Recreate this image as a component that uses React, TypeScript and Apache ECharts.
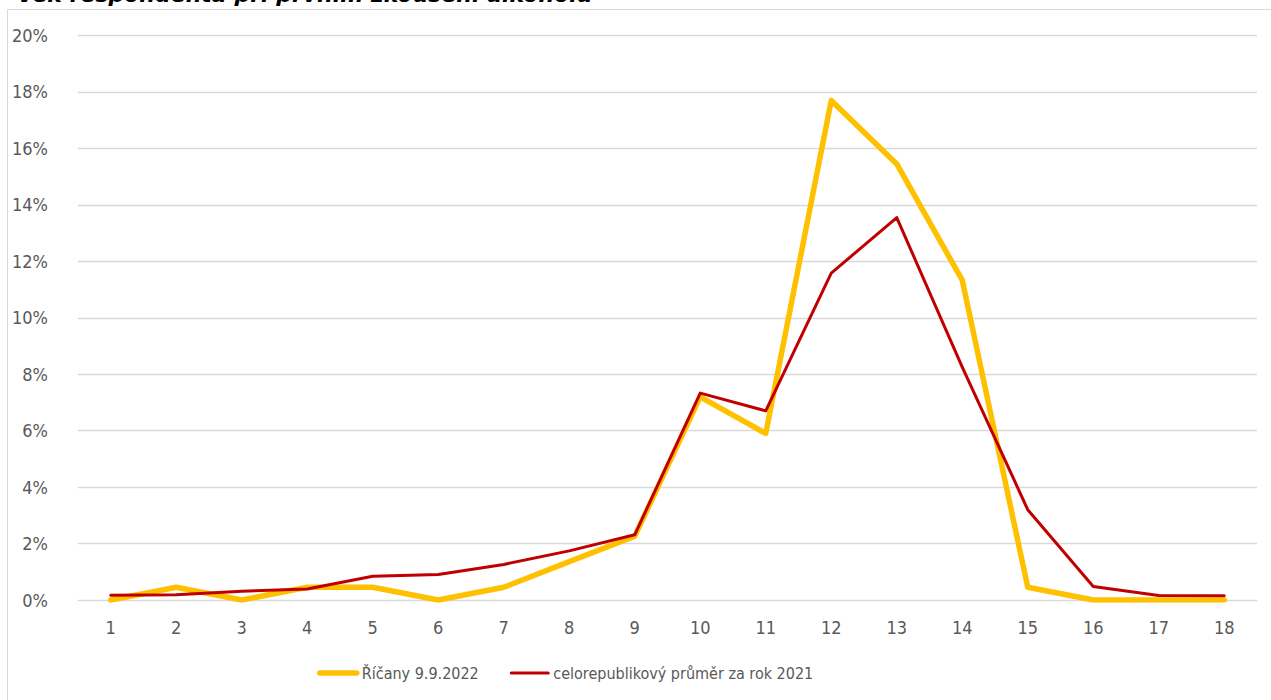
import React, { useEffect, useRef } from "react";
import * as echarts from "echarts";

const TITLE = "Věk respondenta při prvním zkoušení alkoholu";
const categories = ["1", "2", "3", "4", "5", "6", "7", "8", "9", "10", "11", "12", "13", "14", "15", "16", "17", "18"];
const ricanyName = "Říčany 9.9.2022";
const ricany = [0, 0.45, 0, 0.45, 0.45, 0, 0.45, 1.36, 2.26, 7.2, 5.9, 17.7, 15.45, 11.33, 0.45, 0, 0, 0];
const crName = "celorepublikový průměr za rok 2021";
const cr = [0.17, 0.19, 0.31, 0.39, 0.84, 0.9, 1.26, 1.74, 2.31, 7.33, 6.7, 11.58, 13.55, 8.25, 3.2, 0.48, 0.16, 0.15];

const FONT = "'DejaVu Sans Condensed', 'DejaVu Sans', sans-serif";
const TXT = "#595959";

export default function App() {
  const ref = useRef<HTMLDivElement>(null);
  useEffect(() => {
    if (!ref.current) return;
    const chart = echarts.init(ref.current, undefined, { renderer: "svg" });
    chart.setOption({
      animation: false,
      backgroundColor: "#ffffff",
      graphic: [
        {
          type: "rect",
          shape: { x: 7.5, y: 9.5, width: 1400, height: 900 },
          style: { fill: "none", stroke: "#d9d9d9", lineWidth: 1 },
          silent: true,
        },
        {
          type: "text",
          left: 17,
          top: -17,
          style: {
            text: TITLE,
            font: "italic bold 22px 'DejaVu Sans', sans-serif",
            fill: "#000000",
          },
        },
      ],
      grid: { left: 78, right: 14, top: 35.5, bottom: 100, containLabel: false },
      legend: {
        left: 317,
        top: 665,
        padding: 0,
        itemWidth: 37,
        itemHeight: 14,
        itemGap: 31,
        textStyle: { color: TXT, fontSize: 16, fontFamily: FONT },
        data: [
          { name: ricanyName, lineStyle: { width: 5.5, cap: "round" }, itemStyle: { opacity: 0 } },
          { name: crName, lineStyle: { width: 3 }, itemStyle: { opacity: 0 } },
        ],
      },
      xAxis: {
        type: "category",
        data: categories,
        boundaryGap: true,
        axisLine: { show: true, lineStyle: { color: "#d9d9d9", width: 1 } },
        axisTick: { show: false },
        axisLabel: { color: TXT, fontSize: 18, fontFamily: FONT, margin: 18 },
      },
      yAxis: {
        type: "value",
        min: 0,
        max: 20,
        interval: 2,
        axisLine: { show: false },
        axisTick: { show: false },
        splitLine: { lineStyle: { color: "#d9d9d9", width: 1.3 } },
        axisLabel: { color: TXT, fontSize: 18, fontFamily: FONT, margin: 30, formatter: "{value}%" },
      },
      series: [
        {
          name: ricanyName,
          type: "line",
          data: ricany,
          symbol: "none",
          lineStyle: { color: "#FFC000", width: 5.5, join: "round", cap: "round" },
          itemStyle: { color: "#FFC000" },
        },
        {
          name: crName,
          type: "line",
          data: cr,
          symbol: "none",
          lineStyle: { color: "#C00000", width: 3, join: "round", cap: "round" },
          itemStyle: { color: "#C00000" },
        },
      ],
    });
    return () => chart.dispose();
  }, []);
  return (
    <div style={{ position: "fixed", left: 0, top: 0, width: 1271, height: 700, background: "#fff" }}>
      <div ref={ref} style={{ width: 1271, height: 700 }} />
    </div>
  );
}
